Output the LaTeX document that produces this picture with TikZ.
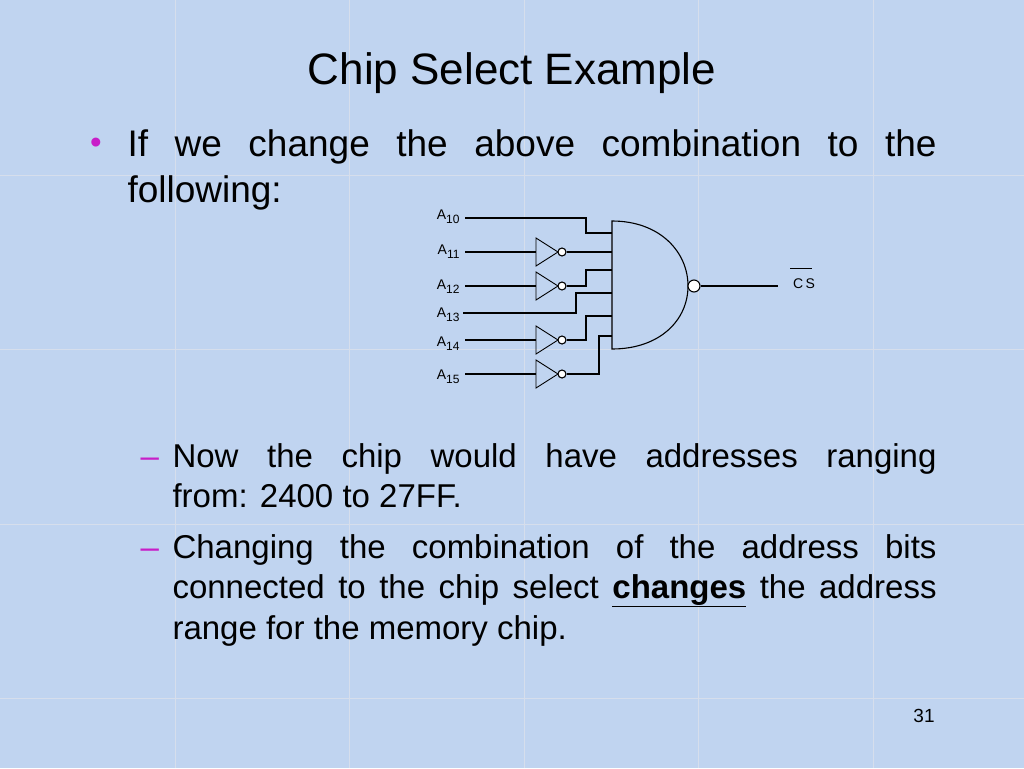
\documentclass[tikz,border=0pt]{standalone}
\usepackage{fontspec}
\setmainfont{Liberation Sans}
\begin{document}
\begin{tikzpicture}[x=1pt,y=-1pt,line width=1.1pt,
  lbl/.style={font=\fontsize{14}{14}\selectfont,anchor=east,inner sep=0pt},
  body/.style={font=\fontsize{33}{33}\selectfont,anchor=base west,inner sep=0pt},
  bodyb/.style={font=\fontsize{37}{37}\selectfont,anchor=base west,inner sep=0pt},
  inv/.style={draw,fill=none,line width=0.9pt},
  bub/.style={draw,circle,fill=white,inner sep=0pt,line width=1.1pt}]
\newcommand{\sbs}[1]{\raisebox{-4pt}{\fontsize{12}{12}\selectfont #1}}
\definecolor{bg}{RGB}{192,212,240}
\definecolor{grid}{RGB}{214,222,236}
\definecolor{mag}{RGB}{200,30,200}
\fill[bg] (0,0) rectangle (1024,768);
\useasboundingbox (0,0) rectangle (1024,768);
\foreach \g in {175,349,524,698,873} \draw[grid,line width=1pt] (\g,0) -- (\g,768);
\foreach \g in {175,349,524,698} \draw[grid,line width=1pt] (0,\g) -- (1024,\g);
\node[font=\fontsize{44}{44}\selectfont] (title) at (512,73) {Chip Select Example};
\node[text=mag,font=\fontsize{33}{33}\selectfont,anchor=base] (b1) at (96,153) {\textbullet};
\node[bodyb] (l1) at (127,156) {\makebox[809pt][s]{If we change the above combination to the}};
\node[bodyb] (l2) at (127,202) {following:};
\foreach \yy/\nm in {467/d1,558/d2} \node[body,text=mag] (\nm) at (140,\yy) {--};
\node[body] (t1) at (172,467) {\makebox[764pt][s]{Now the chip would have addresses ranging}};
\node[body] (t2) at (172,507) {from: 2400 to 27FF.};
\node[body] (t3) at (172,558) {\makebox[764pt][s]{Changing the combination of the address bits}};
\node[body] (t4) at (172,598) {\makebox[764pt][s]{connected to the chip select \underline{\textbf{changes}} the address}};
\node[body] (t5) at (172,639) {range for the memory chip.};
\node[font=\fontsize{19}{19}\selectfont] (pg) at (924,716) {31};
% gate
\draw (612,221) -- (612,349) .. controls (660,349) and (688,320) .. (688,286) .. controls (688,252) and (660,221) .. cycle;
\node[bub,minimum size=12pt] (ob) at (694,286) {};
\coordinate (out) at (778,286);
\draw (ob) -- (out);
\node[font=\fontsize{14}{14}\selectfont] (cs) at (804,284) {C\,S};
\draw[line width=0.9pt] (790,268) -- (812,268);
% inputs
\node[lbl] (a10) at (460,217) {A\sbs{10}};
\node[lbl] (a11) at (460,252) {A\sbs{11}};
\node[lbl] (a12) at (460,287) {A\sbs{12}};
\node[lbl] (a13) at (460,315) {A\sbs{13}};
\node[lbl] (a14) at (460,344) {A\sbs{14}};
\node[lbl] (a15) at (460,377) {A\sbs{15}};
\draw (465,218) -- (586,218) -- (586,233) -- (612,233);
\foreach \yy/\n in {252/b,286/c,340/e,374/f}{
  \draw[inv] (536,\yy-14) -- (558,\yy) -- (536,\yy+14) -- cycle;
  \node[bub,minimum size=8pt] (n\n) at (562,\yy) {};
  \draw (465,\yy) -- (536,\yy);
}
\draw (nb) -- (612,252);
\draw (nc) -- (586,286) -- (586,270) -- (612,270);
\draw (463,313) -- (576,313) -- (576,293) -- (612,293);
\draw (ne) -- (586,340) -- (586,316) -- (612,316);
\draw (nf) -- (599,374) -- (599,336) -- (612,336);
\end{tikzpicture}
\end{document}
